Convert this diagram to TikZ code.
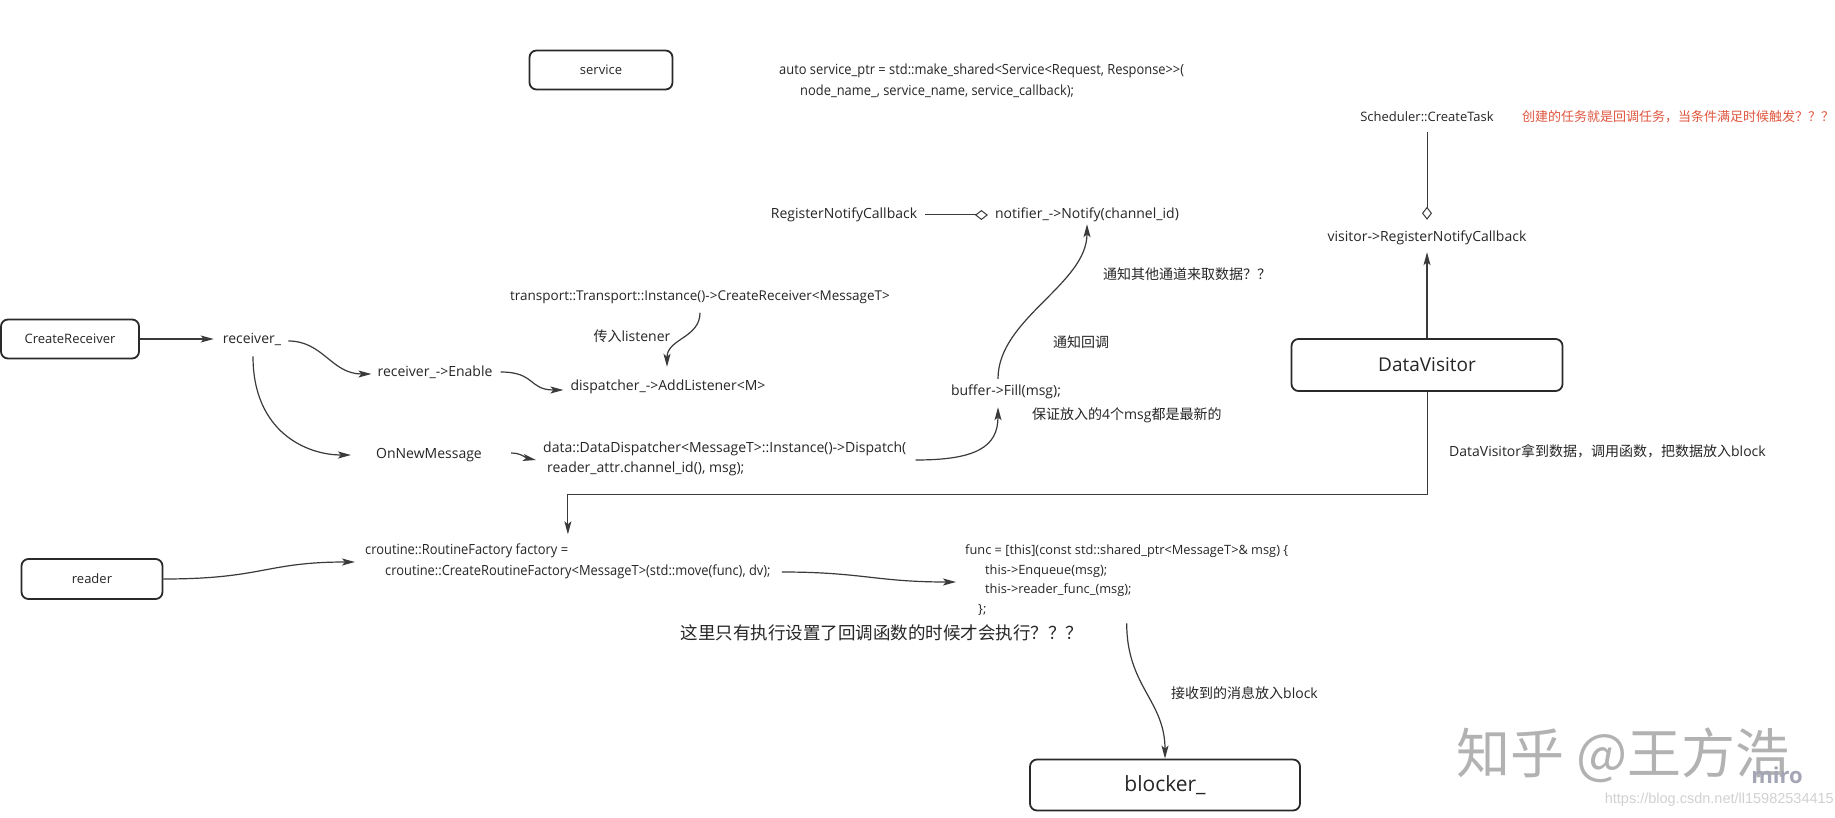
\documentclass[tikz,border=0pt]{standalone}
\usepackage{fontspec}
\setmainfont{Open Sans}
\newfontfamily\cjk{Noto Sans CJK SC}
\newfontfamily\condf[FakeStretch=0.92]{Open Sans}
\newfontfamily\urlf{Liberation Sans}
\usetikzlibrary{arrows.meta,calc}
\definecolor{txtc}{HTML}{262626}
\definecolor{linec}{HTML}{3A3A3A}
\definecolor{boxc}{HTML}{2A2A2A}
\definecolor{redc}{HTML}{E0563F}
\definecolor{mirc}{HTML}{A4A6B6}
\begin{document}
\begin{tikzpicture}[x=1pt,y=-1pt,
  every node/.style={inner sep=1pt, text=txtc},
  lbl/.style={font={\fontsize{14}{17}\selectfont}},
  small/.style={font={\fontsize{13}{16}\selectfont}},
  code/.style={font={\condf\fontsize{14}{21}\selectfont}},
  fnc/.style={font={\fontsize{12.8}{19.5}\selectfont}},
  box/.style={draw=boxc, line width=1.8pt, rounded corners=7pt, font={\fontsize{13}{16}\selectfont}},
  arr/.style={draw=linec, line width=1.2pt, -{Stealth[length=13pt,width=7pt,inset=3pt]}},
  dia/.style={draw=linec, line width=1pt, -{Diamond[open,length=13pt,width=10pt]}},
]
\fill[white] (0,0) rectangle (1835,818);
\useasboundingbox (0,0) rectangle (1835,818);

% top
\node[box, minimum width=143pt, minimum height=39pt] (svc) at (601,70) {service};
\node[code, anchor=west, align=left] (sptr) at (778,81) {auto service\_ptr = std::make\_shared<Service<Request, Response>>(\\\hspace*{21pt}node\_name\_, service\_name, service\_callback);};

\node[small] (sched) at (1427,117) {Scheduler::CreateTask};
\node[small, text=redc, anchor=west] (note) at (1521,117) {\cjk 创建的任务就是回调任务，当条件满足时候触发？？？};
\node[lbl] (vis) at (1427,238) {visitor->RegisterNotifyCallback};
\node[box, minimum width=271pt, minimum height=52pt, font={\fontsize{19}{22}\selectfont}] (dv) at (1427,365) {DataVisitor};
\node[lbl, anchor=west] (dvl) at (1448,451) {DataVisitor{\cjk 拿到数据，调用函数，把数据放入}block};

\node[lbl] (reg) at (844,215) {RegisterNotifyCallback};
\node[lbl] (ntf) at (1087,215) {notifier\_->Notify(channel\_id)};
\node[lbl, anchor=west] (ntl) at (1102,274) {\cjk 通知其他通道来取数据？？};
\node[lbl] (cbl) at (1081,342) {\cjk 通知回调};
\node[lbl] (buf) at (1006,392) {buffer->Fill(msg);};
\node[lbl, anchor=west] (bfl) at (1031,415) {{\cjk 保证放入的}4{\cjk 个}msg{\cjk 都是最新的}};

\node[lbl, font={\fontsize{13.5}{17}\selectfont}] (trans) at (700,297) {transport::Transport::Instance()->CreateReceiver<MessageT>};
\node[lbl] (lsn) at (632,336) {{\cjk 传入}listener};
\node[box, minimum width=138pt, minimum height=39pt] (crr) at (70,339) {CreateReceiver};
\node[lbl] (rcv) at (252,339) {receiver\_};
\node[lbl] (enb) at (435,372) {receiver\_->Enable};
\node[lbl] (disp) at (668,387) {dispatcher\_->AddListener<M>};
\node[lbl] (onm) at (429,455) {OnNewMessage};
\node[lbl, anchor=west, align=left, font={\fontsize{14}{20}\selectfont}] (dd) at (542,459) {data::DataDispatcher<MessageT>::Instance()->Dispatch(\\\hspace*{4pt}reader\_attr.channel\_id(), msg);};

% bottom
\node[box, minimum width=141pt, minimum height=40pt] (rdr) at (92,579) {reader};
\node[code, anchor=west, align=left] (cr) at (364,561) {croutine::RoutineFactory factory =\\\hspace*{20pt}croutine::CreateRoutineFactory<MessageT>(std::move(func), dv);};
\node[fnc, anchor=west, align=left] (fn) at (964,580) {func = [this](const std::shared\_ptr<MessageT>\& msg) \{\\\hspace*{20pt}this->Enqueue(msg);\\\hspace*{20pt}this->reader\_func\_(msg);\\\hspace*{13pt}\};};
\node[font={\fontsize{17.5}{20}\selectfont}] (q) at (882,633) {\cjk 这里只有执行设置了回调函数的时候才会执行？？？};
\node[box, minimum width=270pt, minimum height=51pt, font={\fontsize{21}{24}\selectfont}] (blk) at (1165,785) {blocker\_};
\node[lbl, anchor=west] (bkl) at (1170,693) {{\cjk 接收到的消息放入}block};

% watermarks
\node[text=black!30, font={\cjk\fontsize{54}{60}\selectfont}] (wm) at (1623,755) {知乎 @王方浩};
\node[text=mirc, font={\bfseries\fontsize{22}{24}\selectfont}] (miro) at (1777,775) {miro};
\node[text=black!18, font={\urlf\fontsize{14.5}{16}\selectfont}, anchor=east] (url) at (1835,800) {https://blog.csdn.net/ll15982534415};

% connectors
\draw[arr, shorten >=8pt] (crr.east) -- (rcv.west);
\draw[arr] ($(rcv.east)+(6,2)$) .. controls +(35,0) and +(-40,0) .. ($(enb.west)+(-5,2)$);
\draw[arr] ($(enb.east)+(7,0)$) .. controls +(35,0) and +(-35,0) .. ($(disp.west)+(-6,3)$);
\draw[arr] ($(trans.south)+(0,8)$) .. controls +(0,25) and +(0,-28) .. ($(disp.north)+(-1,-12)$);
\draw[arr] ($(rcv.south)+(1,10)$) .. controls +(0,75) and +(-45,0) .. ($(onm.west)+(-24,0)$);
\draw[arr] ($(onm.east)+(28,-2)$) .. controls +(10,0) and +(-10,-2) .. ($(dd.west)+(-6,1)$);
\draw[arr] ($(dd.east)+(8,1)$) .. controls +(60,0) and +(0,40) .. ($(buf.south)+(-8,7)$);
\draw[arr] ($(buf.north)+(-8,-5)$) .. controls +(0,-60) and +(0,60) .. ($(ntf.south)+(0,1)$);
\draw[dia, shorten <=7pt, shorten >=6pt] (reg.east) -- (ntf.west);
\draw[dia, shorten <=9pt, shorten >=10pt] (sched.south) -- (vis.north);
\draw[arr, shorten >=6pt] (dv.north) -- (vis.south);
\draw[arr, line width=1pt] (dv.south) -- ++(0,103) -| ($(cr.north)+(0,-8)$);
\draw[arr] (rdr.east) .. controls +(100,0) and +(-90,0) .. ($(cr.west)+(-9,1)$);
\draw[arr] ($(cr.east)+(10,11)$) .. controls +(80,0) and +(-80,0) .. ($(fn.west)+(-8,2)$);
\draw[arr] ($(fn.south)+(0,7)$) .. controls +(0,63) and +(0,-58) .. (blk.north);
\end{tikzpicture}
\end{document}
